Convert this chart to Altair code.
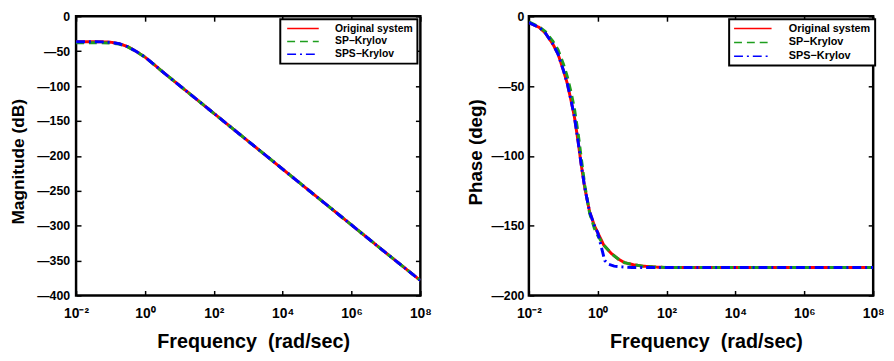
import altair as alt
import pandas as pd

FONT = "Liberation Sans"

series_names = ["Original system", "SP\u2212Krylov", "SPS\u2212Krylov"]
series_colors = ["#ff0000", "#1e9e1e", "#0000ff"]
series_dashes = [[1, 0], [8, 5], [9, 4, 2, 4]]

x_tick_values = [1e-2, 1e0, 1e2, 1e4, 1e6, 1e8]
x_tick_labels = ["10\u207b\u00b2", "10\u2070", "10\u00b2", "10\u2074", "10\u2076", "10\u2078"]
mag_tick_values = [-400, -350, -300, -250, -200, -150, -100, -50, 0]
phase_tick_values = [-200, -150, -100, -50, 0]

# ---- Magnitude (dB) ----
mag_w = [0.01, 0.0178, 0.0316, 0.0562, 0.1, 0.178, 0.316, 0.562, 1.0, 1.78,
         3.16, 10.0, 100.0, 1e3, 1e4, 1e5, 1e6, 1e7, 1e8]
mag_orig = [-36.5, -36.5, -36.5, -36.6, -37.2, -39.2, -43.5, -50.5, -58.5, -68.5,
            -79, -99, -139, -179, -219, -259, -299, -339, -378.5]
mag_sp = [-38.0, -38.0, -38.0, -38.1, -38.4, -39.8, -43.8, -50.6, -58.5, -68.5,
          -79, -99, -139, -179, -219, -259, -299, -339, -378.5]
mag_sps = [-36.6, -36.6, -36.6, -36.7, -37.3, -39.3, -43.6, -50.5, -58.5, -68.5,
           -79, -99, -139, -179, -219, -259, -299, -339, -378.5]

# ---- Phase (deg) ----
ph_w = [0.01, 0.02, 0.03, 0.05, 0.07, 0.1, 0.13, 0.17, 0.21, 0.27, 0.33, 0.42,
        0.58, 0.8, 1.0, 1.5, 2.5, 4, 6, 11, 20, 50, 100, 1e3, 1e4, 1e5, 1e6, 1e7, 1e8]
ph_orig = [-4.5, -8, -12, -20, -27, -38.5, -48, -61, -72, -90, -106, -123,
           -140, -150, -155, -164, -170, -174, -176.5, -178, -179, -179.7, -180,
           -180, -180, -180, -180, -180, -180]
ph_sp = [-4, -7.5, -11, -18, -24, -34, -43, -55, -66, -84, -101, -121,
         -141, -152, -157, -164, -170, -174, -176.5, -178, -179, -179.7, -180,
         -180, -180, -180, -180, -180, -180]
ph_w_sps = [0.01, 0.02, 0.03, 0.05, 0.07, 0.1, 0.13, 0.17, 0.21, 0.27, 0.33, 0.42,
            0.58, 0.8, 1.0, 1.26, 1.6, 2.0, 3.0, 5.0, 10, 100, 1e3, 1e4, 1e5, 1e6, 1e7, 1e8]
ph_sps = [-4.5, -8, -12, -20, -27, -38.5, -48, -61, -72, -90, -106, -123,
          -140, -150, -155, -165, -175, -177.5, -179, -179.5, -180, -180,
          -180, -180, -180, -180, -180, -180]


def long_df(parts):
    rows = []
    for name, ws, vs in parts:
        for w, v in zip(ws, vs):
            rows.append({"w": w, "v": v, "series": name})
    return pd.DataFrame(rows)


mag_df = long_df([(series_names[0], mag_w, mag_orig),
                  (series_names[1], mag_w, mag_sp),
                  (series_names[2], mag_w, mag_sps)])
ph_df = long_df([(series_names[0], ph_w, ph_orig),
                 (series_names[1], ph_w, ph_sp),
                 (series_names[2], ph_w_sps, ph_sps)])

x_label_expr = "'" + x_tick_labels[-1] + "'"
for v, lab in zip(reversed(x_tick_values[:-1]), reversed(x_tick_labels[:-1])):
    x_label_expr = f"datum.value < {v * 3} ? '{lab}' : ({x_label_expr})"
y_label_expr = "datum.value < 0 ? '\u2014' + format(-datum.value, 'd') : format(datum.value, 'd')"

W, H = 349, 283


def panel(df, y_domain, y_ticks, y_title, y_title_size, y_label_pad, y_title_pad, y_title_shift, leg):
    xs = alt.Scale(type="log", domain=[1e-2, 1e8], nice=False)
    ys = alt.Scale(domain=y_domain, nice=False, zero=False)
    base = alt.Chart(df)
    legend = alt.Legend(
        orient="none", legendX=leg["x"], legendY=leg["y"], title=None,
        symbolType=leg["path"], symbolSize=90.25, symbolOffset=leg["so"],
        symbolStrokeWidth=1.5, labelOffset=leg["lo"], labelFont=FONT,
        labelFontSize=leg["fs"], labelFontWeight="bold", labelColor="black",
        padding=4, rowPadding=2, strokeColor="black", fillColor="white",
    )
    lines = base.mark_line(strokeWidth=3, clip=True).encode(
        x=alt.X("w:Q", scale=xs, axis=alt.Axis(
            values=x_tick_values, labelExpr=x_label_expr, title="Frequency\u00a0 (rad/sec)",
            ticks=False, domain=False, grid=False, labelFont=FONT, labelFontSize=14,
            labelFontWeight="bold", labelColor="black", labelPadding=11,
            labelFlush=False, labelOverlap=False,
            titleFont=FONT, titleFontSize=20, titleFontWeight="bold",
            titleColor="black", titlePadding=12, titleX=W / 2 + 5)),
        y=alt.Y("v:Q", scale=ys, axis=alt.Axis(
            values=y_ticks, labelExpr=y_label_expr, title=y_title, ticks=False,
            domain=False, grid=False,
            labelFont=FONT, labelFontSize=12.5, labelFontWeight="bold",
            labelColor="black", labelPadding=y_label_pad,
            titleFont=FONT, titleFontSize=y_title_size, titleFontWeight="bold",
            titleColor="black", titlePadding=y_title_pad, titleY=H / 2 + y_title_shift)),
        color=alt.Color("series:N", scale=alt.Scale(domain=series_names, range=series_colors),
                        legend=legend),
        strokeDash=alt.StrokeDash("series:N", scale=alt.Scale(domain=series_names, range=series_dashes),
                                  legend=legend),
    )
    tick_axis = dict(labels=False, title=None, domain=False, grid=False, ticks=True,
                     tickSize=5, tickWidth=1.5, tickColor="black", offset=-5,
                     minExtent=0, maxExtent=0)
    t1 = base.mark_line(opacity=0).encode(
        x=alt.X("w:Q", scale=xs, axis=alt.Axis(orient="bottom", values=x_tick_values, **tick_axis)),
        y=alt.Y("v:Q", scale=ys, axis=alt.Axis(orient="left", values=y_ticks, **tick_axis)),
        detail="series:N",
    )
    t2 = base.mark_line(opacity=0).encode(
        x=alt.X("w:Q", scale=xs, axis=alt.Axis(orient="top", values=x_tick_values, **tick_axis)),
        y=alt.Y("v:Q", scale=ys, axis=alt.Axis(orient="right", values=y_ticks, **tick_axis)),
        detail="series:N",
    )
    return alt.layer(lines, t1, t2).resolve_axis(x="independent", y="independent").properties(
        width=W, height=H)


left = panel(mag_df, [-400, 0], mag_tick_values, "Magnitude (dB)", 17.5, 6.5, 9, 5.5,
             dict(x=207, y=3, path="M-3.37,0H3.37", so=13.5, lo=27, fs=10.5))
right = panel(ph_df, [-200, 0], phase_tick_values, "Phase (deg)", 19, 5, 6, -4,
              dict(x=203, y=3, path="M-4,0H4", so=14.5, lo=31, fs=11))

chart = alt.hconcat(left, right, spacing=32).resolve_scale(
    color="independent", strokeDash="independent"
).resolve_legend(
    color="independent", strokeDash="independent"
).properties(
    padding={"left": 0, "top": -2, "right": 0, "bottom": 0}
).configure_view(stroke="black", strokeWidth=2.5).configure_legend(strokeWidth=2)

chart.save("out.html", embed_options={"renderer": "svg", "actions": False})
